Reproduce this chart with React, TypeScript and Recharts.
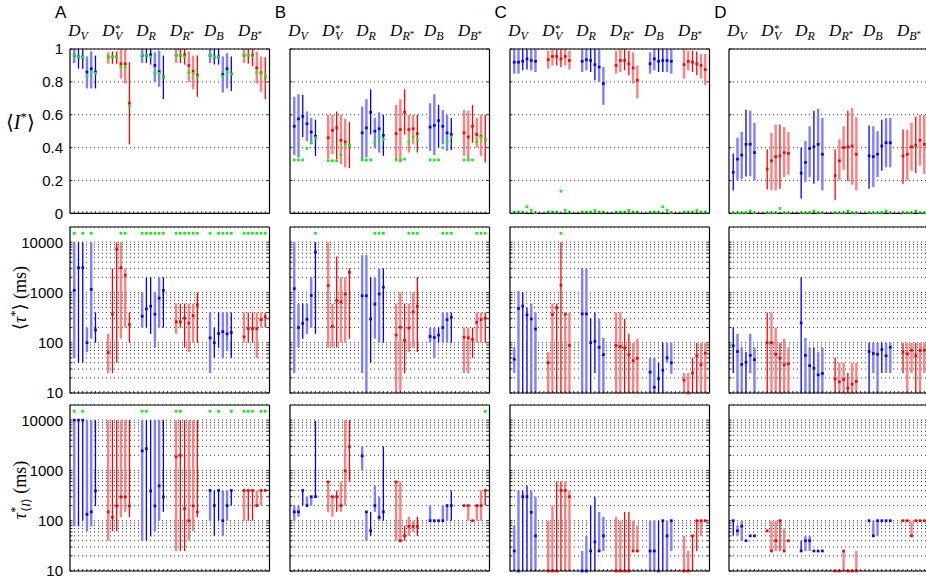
import React from 'react';
import { ComposedChart, Scatter, ErrorBar, XAxis, YAxis, CartesianGrid } from 'recharts';

type Tri = [number, number, number];

// x slot of each of the 36 conditions (6 groups of 6)
const SLOTS = [1, 2, 3, 4, 5, 6, 9, 10, 11, 12, 13, 14, 17, 18, 19, 20, 21, 22, 25, 26, 27, 28, 29, 30, 33, 34, 35, 36, 37, 38, 41, 42, 43, 44, 45, 46];
const GROUP_STARTS = [1, 9, 17, 25, 33, 41];
const X_TICKS = [1, 2, 3, 4, 5, 6, 7, 8, 9, 10, 11, 12, 13, 14, 15, 16, 17, 18, 19, 20, 21, 22, 23, 24, 25, 26, 27, 28, 29, 30, 31, 32, 33, 34, 35, 36, 37, 38, 39, 40, 41, 42, 43, 44, 45, 46];
const PANEL_LETTERS = ['A', 'B', 'C', 'D'];
const HEAD_LABELS = [
  { sub: 'V', sup: false, subStar: false },
  { sub: 'V', sup: true, subStar: false },
  { sub: 'R', sup: false, subStar: false },
  { sub: 'R', sup: false, subStar: true },
  { sub: 'B', sup: false, subStar: false },
  { sub: 'B', sup: false, subStar: true },
];
const LIN_TICKS = [0, 0.2, 0.4, 0.6, 0.8, 1];
const LOG_MAJOR = [10, 100, 1000, 10000];
const LOG_TICKS = [10, 20, 30, 40, 50, 60, 70, 80, 90, 100, 200, 300, 400, 500, 600, 700, 800, 900, 1000, 2000, 3000, 4000, 5000, 6000, 7000, 8000, 9000, 10000];
const GREEN_TOP = 15000;

// light (1) / dark (0) error bar pattern inside each group, per column
const LIGHT_A = [1, 0, 0, 1, 1, 0];
const LIGHT_B = [1, 1, 0, 1, 1, 0];
const LIGHT_C = [1, 1, 0, 0, 1, 1];
const LIGHT_D = [0, 1, 1, 0, 1, 1];

// ---------- Row 1: <I*>  [centre, low, high] ----------
const I_A: Tri[] = [
  [0.962, 0.915, 1], [0.952, 0.88, 1], [0.952, 0.88, 1], [0.86, 0.76, 0.955], [0.88, 0.76, 0.985], [0.86, 0.76, 0.96],
  [0.952, 0.91, 0.98], [0.952, 0.91, 0.985], [0.952, 0.91, 0.985], [0.91, 0.82, 1], [0.91, 0.79, 1], [0.67, 0.42, 0.92],
  [0.962, 0.915, 1], [0.962, 0.915, 1], [0.965, 0.905, 1], [0.9, 0.8, 0.98], [0.862, 0.77, 0.99], [0.83, 0.695, 0.96],
  [0.962, 0.915, 1], [0.962, 0.915, 1], [0.965, 0.905, 1], [0.9, 0.8, 0.985], [0.865, 0.755, 0.96], [0.84, 0.71, 0.96],
  [0.962, 0.915, 1], [0.952, 0.905, 1], [0.952, 0.905, 1], [0.845, 0.735, 0.955], [0.88, 0.76, 0.975], [0.848, 0.745, 0.955],
  [0.962, 0.915, 1], [0.962, 0.91, 1], [0.96, 0.895, 1], [0.885, 0.79, 0.985], [0.855, 0.74, 0.955], [0.83, 0.695, 0.95],
];
const I_B: Tri[] = [
  [0.53, 0.355, 0.71], [0.575, 0.34, 0.725], [0.59, 0.465, 0.72], [0.545, 0.44, 0.62], [0.495, 0.42, 0.58], [0.47, 0.35, 0.57],
  [0.46, 0.33, 0.6], [0.505, 0.36, 0.6], [0.52, 0.33, 0.62], [0.445, 0.3, 0.6], [0.435, 0.28, 0.575], [0.415, 0.275, 0.555],
  [0.49, 0.33, 0.65], [0.52, 0.34, 0.695], [0.615, 0.48, 0.755], [0.5, 0.395, 0.58], [0.515, 0.37, 0.615], [0.475, 0.35, 0.6],
  [0.485, 0.33, 0.66], [0.51, 0.31, 0.695], [0.615, 0.48, 0.755], [0.51, 0.37, 0.6], [0.515, 0.42, 0.6], [0.485, 0.37, 0.6],
  [0.525, 0.38, 0.67], [0.535, 0.355, 0.725], [0.565, 0.4, 0.66], [0.53, 0.42, 0.63], [0.49, 0.38, 0.6], [0.48, 0.385, 0.58],
  [0.49, 0.35, 0.63], [0.465, 0.32, 0.625], [0.53, 0.43, 0.66], [0.48, 0.4, 0.58], [0.47, 0.35, 0.6], [0.45, 0.31, 0.6],
];
const I_C: Tri[] = [
  [0.92, 0.85, 1], [0.92, 0.85, 1], [0.925, 0.87, 1], [0.94, 0.875, 1], [0.93, 0.87, 1], [0.925, 0.86, 1],
  [0.935, 0.88, 0.99], [0.955, 0.9, 1], [0.955, 0.9, 1], [0.94, 0.89, 1], [0.955, 0.9, 1], [0.93, 0.875, 0.99],
  [0.925, 0.86, 1], [0.935, 0.87, 1], [0.93, 0.86, 1], [0.905, 0.81, 1], [0.89, 0.8, 1], [0.79, 0.66, 0.89],
  [0.9, 0.85, 0.99], [0.93, 0.86, 1], [0.93, 0.87, 1], [0.91, 0.84, 0.99], [0.885, 0.79, 0.98], [0.81, 0.7, 0.9],
  [0.91, 0.85, 0.98], [0.94, 0.87, 1], [0.925, 0.86, 1], [0.93, 0.86, 1], [0.93, 0.86, 1], [0.925, 0.85, 1],
  [0.905, 0.82, 1], [0.925, 0.87, 0.99], [0.92, 0.86, 0.99], [0.91, 0.84, 0.985], [0.9, 0.82, 0.97], [0.875, 0.78, 0.97],
];
const I_D: Tri[] = [
  [0.25, 0.14, 0.365], [0.33, 0.2, 0.46], [0.355, 0.21, 0.495], [0.42, 0.225, 0.63], [0.42, 0.225, 0.625], [0.37, 0.2, 0.55],
  [0.27, 0.145, 0.39], [0.32, 0.14, 0.49], [0.345, 0.14, 0.54], [0.35, 0.15, 0.54], [0.37, 0.22, 0.525], [0.365, 0.235, 0.495],
  [0.245, 0.09, 0.4], [0.31, 0.19, 0.44], [0.395, 0.22, 0.53], [0.405, 0.18, 0.625], [0.42, 0.2, 0.635], [0.36, 0.14, 0.58],
  [0.23, 0.08, 0.39], [0.32, 0.2, 0.45], [0.4, 0.265, 0.53], [0.405, 0.195, 0.625], [0.41, 0.175, 0.64], [0.36, 0.14, 0.585],
  [0.35, 0.15, 0.535], [0.345, 0.16, 0.53], [0.36, 0.22, 0.5], [0.41, 0.26, 0.57], [0.43, 0.28, 0.58], [0.43, 0.28, 0.58],
  [0.35, 0.18, 0.51], [0.36, 0.2, 0.51], [0.405, 0.26, 0.55], [0.415, 0.245, 0.59], [0.445, 0.29, 0.6], [0.42, 0.24, 0.6],
];
// green reference values for row 1
const G_I_A = [0.962, 0.952, 0.952, 0.835, 0.86, 0.852, 0.952, 0.952, 0.952, 0.89, 0.89, 0.655, 0.962, 0.962, 0.952, 0.855, 0.852, 0.83, 0.962, 0.962, 0.952, 0.857, 0.852, 0.83, 0.962, 0.952, 0.952, 0.835, 0.858, 0.848, 0.962, 0.962, 0.952, 0.857, 0.85, 0.83];
const G_I_B = [0.325, 0.325, 0.325, 0.395, 0.43, 0.46, 0.32, 0.32, 0.32, 0.355, 0.42, 0.415, 0.325, 0.325, 0.325, 0.435, 0.465, 0.45, 0.325, 0.325, 0.33, 0.435, 0.465, 0.45, 0.325, 0.325, 0.325, 0.4, 0.435, 0.465, 0.325, 0.325, 0.325, 0.435, 0.465, 0.45];
const G_I_C = [0.008, 0.008, 0.008, 0.04, 0.02, 0.004, 0.008, 0.008, 0.008, 0.135, 0.02, 0.008, 0.008, 0.008, 0.008, 0.018, 0.008, 0.008, 0.008, 0.008, 0.008, 0.018, 0.008, 0.008, 0.008, 0.008, 0.008, 0.04, 0.02, 0.004, 0.008, 0.008, 0.008, 0.018, 0.008, 0.008];
const G_I_D = [0.003, 0.003, 0.003, 0.003, 0.015, 0.003, 0.003, 0.003, 0.003, 0.03, 0.003, 0.003, 0.003, 0.003, 0.003, 0.015, 0.003, 0.003, 0.003, 0.003, 0.003, 0.015, 0.003, 0.003, 0.003, 0.003, 0.003, 0.003, 0.015, 0.003, 0.003, 0.003, 0.003, 0.015, 0.003, 0.003];

// ---------- Row 2: <tau*> (ms) ----------
const T_A: Tri[] = [
  [1100, 50, 10000], [3100, 40, 10000], [3100, 40, 10000], [100, 65, 200], [1150, 120, 10000], [180, 100, 400],
  [64, 25, 150], [370, 25, 3000], [7300, 40, 10000], [3100, 120, 10000], [2200, 200, 3000], [230, 100, 400],
  [336, 200, 1000], [470, 200, 2000], [530, 150, 2000], [370, 80, 1000], [770, 200, 2000], [1100, 200, 2000],
  [260, 150, 600], [260, 200, 600], [305, 80, 600], [245, 65, 600], [345, 100, 600], [560, 100, 1000],
  [125, 25, 400], [100, 50, 200], [152, 80, 400], [166, 50, 400], [150, 70, 400], [160, 50, 400],
  [131, 100, 400], [190, 100, 400], [190, 100, 400], [190, 50, 400], [288, 200, 400], [326, 200, 400],
];
const T_B: Tri[] = [
  [1190, 25, 10000], [200, 80, 600], [243, 120, 600], [293, 150, 600], [870, 200, 2000], [6300, 150, 10000],
  [1370, 80, 10000], [212, 80, 600], [690, 80, 5200], [650, 100, 2000], [930, 100, 2000], [2500, 120, 3000],
  [860, 25, 5500], [860, 10, 5500], [297, 40, 2000], [586, 120, 2000], [930, 100, 3000], [1270, 100, 3000],
  [142, 10, 600], [203, 10, 1000], [111, 25, 600], [196, 65, 600], [411, 80, 1000], [527, 65, 2000],
  [133, 100, 200], [127, 50, 200], [142, 100, 200], [200, 100, 400], [288, 100, 400], [321, 100, 400],
  [129, 25, 200], [125, 25, 200], [116, 50, 200], [255, 100, 400], [288, 100, 400], [307, 100, 400],
];
const T_C: Tri[] = [
  [47, 25, 80], [480, 10, 1070], [534, 10, 1000], [358, 10, 500], [297, 10, 600], [187, 10, 400],
  [40, 10, 65], [363, 10, 600], [495, 10, 600], [1390, 10, 10000], [369, 10, 400], [88, 10, 400],
  [375, 10, 3000], [375, 10, 3000], [100, 10, 307], [106, 25, 400], [81, 10, 300], [58, 10, 125],
  [88, 10, 400], [84, 10, 400], [78, 10, 300], [58, 10, 150], [44, 10, 100], [49, 10, 120],
  [26, 10, 50], [13, 10, 50], [19.4, 10, 40], [28.5, 10, 100], [50, 40, 100], [40, 24, 100],
  [18, 10, 25], [10, 10, 25], [25, 10, 50], [55, 10, 100], [36.5, 10, 100], [62, 10, 100],
];
const T_D: Tri[] = [
  [87, 25, 200], [67, 10, 150], [37, 10, 80], [41, 10, 65], [56, 25, 150], [46, 10, 80],
  [100, 10, 400], [100, 10, 400], [59, 10, 200], [49, 10, 100], [36.5, 10, 120], [38, 10, 80],
  [247, 10, 2000], [56, 10, 125], [35, 10, 80], [31, 10, 80], [23, 10, 65], [24.5, 10, 80],
  [19, 10, 50], [16.6, 10, 40], [18.5, 10, 40], [12.4, 10, 25], [15, 10, 40], [17, 10, 40],
  [67, 10, 100], [61, 25, 100], [59, 10, 100], [73, 25, 100], [55, 25, 100], [81, 25, 100],
  [65, 25, 100], [60, 10, 100], [71, 25, 100], [55, 10, 100], [70, 10, 100], [71, 25, 100],
];
// conditions (0-based) with a green marker at the top of row 2
const G_T_A = [0, 2, 4, 9, 10, 12, 13, 14, 15, 16, 17, 18, 19, 20, 21, 22, 23, 24, 26, 27, 28, 29, 30, 31, 32, 33, 34, 35];
const G_T_B = [5, 15, 16, 17, 21, 22, 23, 27, 28, 29, 33, 34, 35];
const G_T_C = [9];
const G_T_D: number[] = [];

// ---------- Row 3: tau*_<I> (ms) ----------
const U_A: Tri[] = [
  [10000, 77, 10000], [10000, 77, 10000], [10000, 100, 10000], [134, 62, 10000], [150, 77, 10000], [392, 197, 10000],
  [150, 40, 10000], [117, 62, 10000], [197, 62, 10000], [297, 117, 10000], [297, 150, 10000], [197, 117, 10000],
  [2450, 40, 10000], [2720, 40, 10000], [392, 49, 10000], [197, 62, 10000], [492, 100, 10000], [297, 150, 10000],
  [1860, 25, 10000], [2000, 25, 10000], [174, 25, 10000], [100, 40, 10000], [197, 62, 10000], [150, 117, 10000],
  [400, 100, 400], [200, 50, 400], [400, 100, 400], [100, 50, 400], [200, 100, 400], [400, 200, 400],
  [400, 100, 400], [400, 100, 400], [400, 100, 400], [200, 200, 400], [400, 200, 400], [400, 400, 400],
];
const U_B: Tri[] = [
  [150, 100, 200], [150, 120, 200], [400, 200, 400], [200, 200, 300], [300, 200, 300], [300, 300, 9700],
  [590, 150, 590], [300, 120, 300], [300, 150, 400], [200, 150, 600], [980, 200, 10000], [2950, 600, 10000],
  [1950, 1000, 3000], [150, 40, 150], [63, 50, 150], [200, 150, 500], [117, 100, 300], [150, 100, 3000],
  [590, 40, 590], [40, 40, 590], [50, 40, 80], [77, 50, 120], [77, 60, 100], [77, 50, 120],
  [100, 100, 200], [100, 100, 100], [100, 100, 100], [100, 100, 200], [200, 100, 200], [200, 100, 400],
  [200, 200, 200], [200, 100, 200], [100, 100, 100], [200, 100, 200], [200, 100, 400], [400, 200, 400],
];
const U_C: Tri[] = [
  [25, 10, 80], [10, 10, 400], [300, 10, 400], [300, 10, 500], [147, 10, 400], [50, 10, 300],
  [10, 10, 100], [10, 10, 200], [10, 10, 600], [400, 10, 600], [400, 10, 600], [300, 10, 400],
  [10, 10, 25], [10, 10, 50], [25, 10, 200], [38, 10, 300], [25, 25, 150], [50, 25, 120],
  [10, 10, 120], [10, 10, 100], [10, 10, 150], [10, 10, 150], [25, 25, 100], [25, 25, 80],
  [25, 10, 100], [25, 10, 100], [10, 10, 100], [100, 10, 100], [50, 10, 100], [100, 25, 100],
  [10, 10, 50], [10, 10, 25], [50, 10, 50], [100, 25, 100], [100, 50, 100], [100, 100, 100],
];
const U_D: Tri[] = [
  [100, 50, 100], [63, 50, 80], [78, 40, 100], [40, 40, 40], [50, 50, 50], [50, 50, 50],
  [63, 63, 63], [25, 25, 100], [40, 25, 100], [100, 25, 100], [25, 25, 70], [40, 40, 40],
  [25, 25, 40], [40, 25, 50], [40, 25, 50], [25, 25, 25], [25, 25, 25], [25, 25, 25],
  [10, 10, 10], [10, 10, 10], [25, 10, 25], [10, 10, 10], [10, 10, 10], [10, 10, 25],
  [100, 100, 100], [50, 50, 100], [100, 50, 100], [100, 100, 100], [100, 100, 100], [100, 100, 100],
  [100, 100, 100], [100, 100, 100], [50, 50, 100], [100, 100, 100], [100, 100, 100], [100, 100, 100],
];
const G_U_A = [0, 2, 12, 13, 18, 19, 24, 26, 29, 30, 31, 32, 34, 35];
const G_U_B = [35];
const G_U_C: number[] = [];
const G_U_D: number[] = [];

const BLUE = '#0000ff';
const RED = '#ff0000';
const BLUE_L = '#8080ff';
const RED_L = '#ff8080';
const GREEN = '#14ee14';
const FONT_SANS = "'Liberation Sans', Arial, sans-serif";
const FONT_SERIF = "'Liberation Serif', 'Times New Roman', serif";
const FONT_MATH = "'DejaVu Sans', 'Noto Sans', sans-serif";

const square = (color: string) => (props: any) => {
  const { cx, cy } = props;
  if (cx == null || cy == null) return <g />;
  return <rect x={cx - 1.35} y={cy - 1.35} width={2.7} height={2.7} fill={color} />;
};
const nothing = () => <g />;

const BottomTick = (props: any) => {
  const { x, y } = props;
  return <line x1={x} x2={x} y1={y} y2={y - 2} stroke="#000" strokeWidth={0.8} />;
};

const RightTick = (props: any) => {
  const { x, y } = props;
  return <line x1={x} x2={x - 2.5} y1={y} y2={y} stroke="#000" strokeWidth={0.8} />;
};

const makeLeftTick = (isLog: boolean, showLabel: boolean) => (props: any) => {
  const { x, y, payload } = props;
  const v = payload.value;
  const major = isLog ? LOG_MAJOR.includes(v) : true;
  return (
    <g>
      <line x1={x} x2={x + 2.5} y1={y} y2={y} stroke="#000" strokeWidth={0.8} />
      {showLabel && major ? (
        <text x={x - 7} y={y} dy="0.36em" textAnchor="end" fontFamily={FONT_SANS} fontSize={15} fill="#000">
          {String(v)}
        </text>
      ) : null}
    </g>
  );
};

const HeaderTick = (props: any) => {
  const { x, y, payload } = props;
  const idx = GROUP_STARTS.indexOf(payload.value);
  if (idx < 0) return <g />;
  const h = HEAD_LABELS[idx];
  return (
    <text x={x - 6} y={y - 12.5} fontFamily={FONT_SERIF} fontSize={17} fill="#000">
      <tspan fontStyle="italic">D</tspan>
      {h.sup ? (
        <>
          <tspan fontSize={11} dx={0.5} dy={-4}>*</tspan>
          <tspan fontStyle="italic" fontSize={12} dx={-5.5} dy={8}>{h.sub}</tspan>
        </>
      ) : (
        <tspan fontStyle="italic" fontSize={12} dy={4}>{h.sub}</tspan>
      )}
      {h.subStar ? <tspan fontSize={9} dy={-3}>*</tspan> : null}
    </text>
  );
};

interface PanelProps {
  col: number;
  row: number;
  data: Tri[];
  light: number[];
  greenVals?: number[];
  greenIdx?: number[];
}

const PLOT_W = 199.5;
const ROW_TOP = [49.3, 226.8, 405.0];
const ROW_H = [164.4, 166, 166];

function Panel({ col, row, data, light, greenVals, greenIdx }: PanelProps) {
  const isLog = row > 0;
  const LW = 62;
  const RW = 4;
  const TH = row === 0 ? 46 : 4;
  const BH = 12;
  const H = ROW_H[row];
  const plotLeft = 70 + 219.75 * col;
  const plotTop = ROW_TOP[row];

  const pts = data.map((d, i) => ({
    x: SLOTS[i],
    y: d[0],
    err: [Math.max(0, d[0] - d[1]), Math.max(0, d[2] - d[0])],
    red: Math.floor(i / 6) % 2 === 1,
    light: light[i % 6] === 1,
  }));
  const blueL = pts.filter((p) => !p.red && p.light);
  const blueD = pts.filter((p) => !p.red && !p.light);
  const redL = pts.filter((p) => p.red && p.light);
  const redD = pts.filter((p) => p.red && !p.light);
  const greens = greenVals
    ? greenVals.map((v, i) => ({ x: SLOTS[i], y: v }))
    : (greenIdx || []).map((i) => ({ x: SLOTS[i], y: GREEN_TOP }));

  const domain: [number, number] = isLog ? [10, 20000] : [0, 1];
  const ticks = isLog ? LOG_TICKS : LIN_TICKS;
  const scale = isLog ? 'log' : 'linear';
  // anchors so that the top/right frame axes carry data (they draw headers and ticks)
  const anchors = GROUP_STARTS.map((x) => ({ x, y: domain[0] }));

  const series = [
    { d: blueL, fill: BLUE, bar: BLUE_L, w: 2.4 },
    { d: redL, fill: RED, bar: RED_L, w: 2.4 },
    { d: blueD, fill: BLUE, bar: BLUE, w: 1.3 },
    { d: redD, fill: RED, bar: RED, w: 1.3 },
  ];

  return (
    <div style={{ position: 'absolute', left: plotLeft - LW, top: plotTop - TH }}>
      <ComposedChart width={LW + PLOT_W + RW} height={TH + H + BH} margin={{ top: 0, right: 0, bottom: 0, left: 0 }} style={{ overflow: 'visible' }}>
        <CartesianGrid xAxisId="b" yAxisId="l" vertical={false} stroke="#222" strokeDasharray="1 3" strokeWidth={0.9} />
        <XAxis xAxisId="b" orientation="bottom" type="number" dataKey="x" domain={[0, 47]} ticks={X_TICKS} interval={0}
          height={BH} tickSize={0} tickMargin={0} tickLine={false} tick={BottomTick} axisLine={{ stroke: '#000', strokeWidth: 1.2 }} />
        <XAxis xAxisId="t" orientation="top" type="number" dataKey="x" domain={[0, 47]} allowDataOverflow ticks={GROUP_STARTS} interval={0}
          height={TH} tickSize={0} tickMargin={0} tickLine={false} tick={row === 0 ? HeaderTick : false} axisLine={{ stroke: '#000', strokeWidth: 1.2 }} />
        <YAxis yAxisId="l" orientation="left" type="number" dataKey="y" domain={domain} scale={scale} ticks={ticks} interval={0}
          width={LW} tickSize={0} tickMargin={0} tickLine={false} tick={makeLeftTick(isLog, col === 0)} axisLine={{ stroke: '#000', strokeWidth: 1.2 }} />
        <YAxis yAxisId="r" orientation="right" type="number" dataKey="y" domain={domain} scale={scale} allowDataOverflow ticks={ticks} interval={0}
          width={RW} tickSize={0} tickMargin={0} tickLine={false} tick={RightTick} axisLine={{ stroke: '#000', strokeWidth: 1.2 }} />
        <Scatter data={anchors} xAxisId="t" yAxisId="r" dataKey="y" isAnimationActive={false} shape={nothing} />
        {series.map((s, i) => (
          <Scatter key={i} data={s.d} xAxisId="b" yAxisId="l" dataKey="y" isAnimationActive={false} shape={square(s.fill)}>
            <ErrorBar dataKey="err" direction="y" width={0} stroke={s.bar} strokeWidth={s.w} isAnimationActive={false} />
          </Scatter>
        ))}
        <Scatter data={greens} xAxisId="b" yAxisId="l" dataKey="y" isAnimationActive={false} shape={square(GREEN)} />
      </ComposedChart>
    </div>
  );
}

const PANELS: PanelProps[] = [
  { col: 0, row: 0, data: I_A, light: LIGHT_A, greenVals: G_I_A },
  { col: 1, row: 0, data: I_B, light: LIGHT_B, greenVals: G_I_B },
  { col: 2, row: 0, data: I_C, light: LIGHT_C, greenVals: G_I_C },
  { col: 3, row: 0, data: I_D, light: LIGHT_D, greenVals: G_I_D },
  { col: 0, row: 1, data: T_A, light: LIGHT_A, greenIdx: G_T_A },
  { col: 1, row: 1, data: T_B, light: LIGHT_B, greenIdx: G_T_B },
  { col: 2, row: 1, data: T_C, light: LIGHT_C, greenIdx: G_T_C },
  { col: 3, row: 1, data: T_D, light: LIGHT_D, greenIdx: G_T_D },
  { col: 0, row: 2, data: U_A, light: LIGHT_A, greenIdx: G_U_A },
  { col: 1, row: 2, data: U_B, light: LIGHT_B, greenIdx: G_U_B },
  { col: 2, row: 2, data: U_C, light: LIGHT_C, greenIdx: G_U_C },
  { col: 3, row: 2, data: U_D, light: LIGHT_D, greenIdx: G_U_D },
];

export default function App() {
  return (
    <div style={{ position: 'absolute', left: 0, top: 0, width: 926, height: 583, overflow: 'hidden', background: '#fff' }}>
      {PANELS.map((p, i) => (
        <Panel key={i} {...p} />
      ))}
      <svg width={926} height={583} style={{ position: 'absolute', left: 0, top: 0, pointerEvents: 'none' }}>
        {PANEL_LETTERS.map((l, c) => (
          <text key={l} x={55 + 219.75 * c} y={17.5} fontFamily={FONT_SANS} fontSize={17} fill="#000">{l}</text>
        ))}
        <text x={6} y={129} fontFamily={FONT_SERIF} fontSize={20} fill="#000">
          <tspan fontFamily={FONT_MATH}>⟨</tspan>
          <tspan fontStyle="italic">I</tspan>
          <tspan fontSize={13} dy={-8}>*</tspan>
          <tspan fontFamily={FONT_MATH} dy={8}>⟩</tspan>
        </text>
        <text transform="translate(26,298) rotate(-90)" textAnchor="middle" fontFamily={FONT_SERIF} fontSize={18} fill="#000">
          <tspan fontFamily={FONT_MATH}>⟨</tspan>
          <tspan fontStyle="italic">τ</tspan>
          <tspan fontSize={12} dy={-7}>*</tspan>
          <tspan fontFamily={FONT_MATH} dy={7}>⟩</tspan>
          <tspan> (ms)</tspan>
        </text>
        <text transform="translate(26,490) rotate(-90)" textAnchor="middle" fontFamily={FONT_SERIF} fontSize={18} fill="#000">
          <tspan fontStyle="italic">τ</tspan>
          <tspan fontSize={12} dy={-7}>*</tspan>
          <tspan fontSize={12} dx={-5} dy={11} fontFamily={FONT_MATH}>⟨</tspan>
          <tspan fontSize={12} fontStyle="italic">I</tspan>
          <tspan fontSize={12} fontFamily={FONT_MATH}>⟩</tspan>
          <tspan dy={-4}> (ms)</tspan>
        </text>
      </svg>
    </div>
  );
}
